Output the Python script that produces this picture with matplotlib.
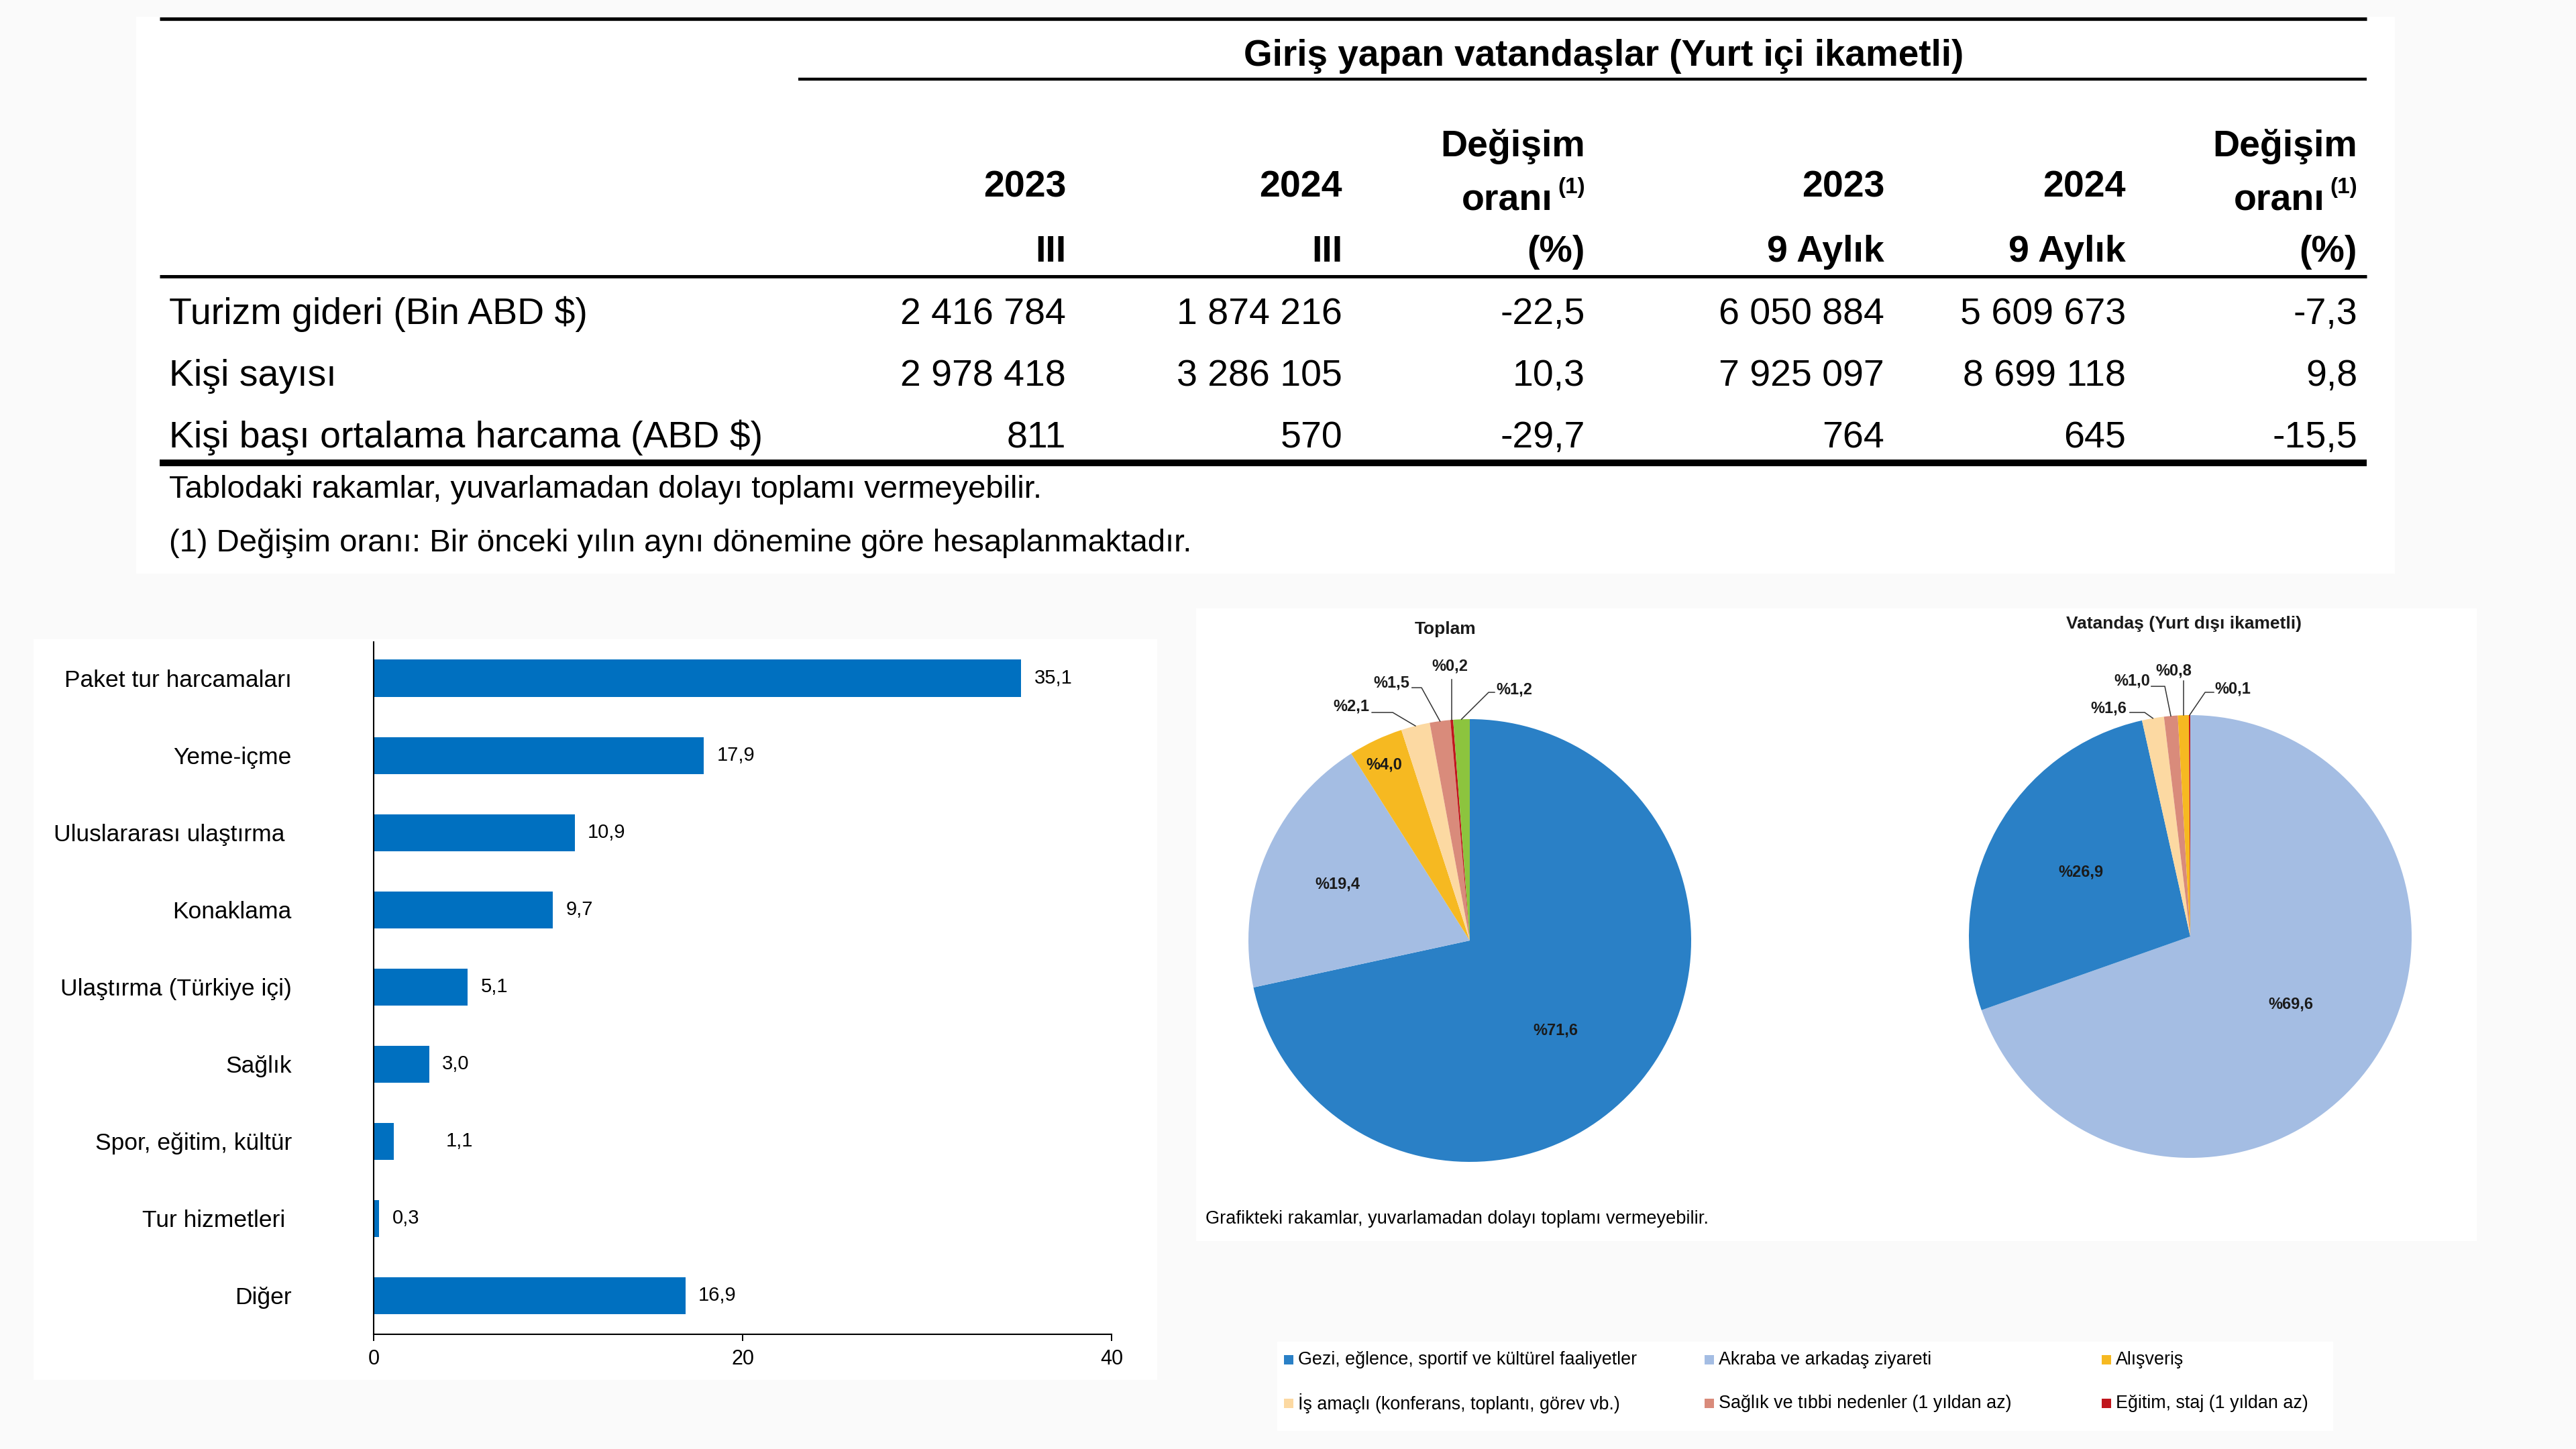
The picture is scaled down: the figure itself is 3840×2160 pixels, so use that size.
import matplotlib
matplotlib.use("Agg")
import matplotlib.pyplot as plt
from matplotlib.patches import Rectangle
import numpy as np

plt.rcParams["font.family"] = ["Liberation Sans", "DejaVu Sans"]

# ------------------------------------------------------------------ data
table_title = "Giriş yapan vatandaşlar (Yurt içi ikametli)"
col_head_top = ["", "", "Değişim", "", "", "Değişim"]
col_head_mid = ["2023", "2024", "oranı", "2023", "2024", "oranı"]
col_head_bot = ["III", "III", "(%)", "9 Aylık", "9 Aylık", "(%)"]
row_labels = ["Turizm gideri (Bin ABD $)", "Kişi sayısı",
              "Kişi başı ortalama harcama (ABD $)"]
q3_2023 = [2416784, 2978418, 811]
q3_2024 = [1874216, 3286105, 570]
q3_change = [-22.5, 10.3, -29.7]
m9_2023 = [6050884, 7925097, 764]
m9_2024 = [5609673, 8699118, 645]
m9_change = [-7.3, 9.8, -15.5]
table_notes = ["Tablodaki rakamlar, yuvarlamadan dolayı toplamı vermeyebilir.",
               "(1) Değişim oranı: Bir önceki yılın aynı dönemine göre hesaplanmaktadır."]

bar_categories = ["Paket tur harcamaları", "Yeme-içme", "Uluslararası ulaştırma ",
                  "Konaklama", "Ulaştırma (Türkiye içi)", "Sağlık",
                  "Spor, eğitim, kültür", "Tur hizmetleri ", "Diğer"]
bar_values = [35.1, 17.9, 10.9, 9.7, 5.1, 3.0, 1.1, 0.3, 16.9]
bar_ticks = [0, 20, 40]

pie_titles = ["Toplam", "Vatandaş (Yurt dışı ikametli)"]
legend_labels = ["Gezi, eğlence, sportif ve kültürel faaliyetler",
                 "Akraba ve arkadaş ziyareti", "Alışveriş",
                 "İş amaçlı (konferans, toplantı, görev vb.)",
                 "Sağlık ve tıbbi nedenler (1 yıldan az)",
                 "Eğitim, staj (1 yıldan az)"]
pie1_keys = ["gezi", "akraba", "alisveris", "is", "saglik", "egitim", "diger"]
pie1_values = [71.6, 19.4, 4.0, 2.1, 1.5, 0.2, 1.2]
pie2_keys = ["akraba", "gezi", "is", "saglik", "alisveris", "egitim"]
pie2_values = [69.6, 26.9, 1.6, 1.0, 0.8, 0.1]
pie_note = "Grafikteki rakamlar, yuvarlamadan dolayı toplamı vermeyebilir."

# ------------------------------------------------------------------ style
legend_keys = ["gezi", "akraba", "alisveris", "is", "saglik", "egitim"]
colors = {"gezi": "#2a80c6", "akraba": "#a4bde3", "alisveris": "#f6b921",
          "is": "#fcd9a2", "saglik": "#d98b7b", "egitim": "#c0161d",
          "diger": "#8cc43e"}
BAR_COLOR = "#0070c0"
W, H = 3840, 2160

fig = plt.figure(figsize=(W / 100, H / 100), dpi=100, facecolor="#fafafa")


def rect(x0, y0, x1, y1):
    """pixel box (top-left origin) -> figure fraction rect"""
    return [x0 / W, (H - y1) / H, (x1 - x0) / W, (y1 - y0) / H]


ov = fig.add_axes([0, 0, 1, 1], zorder=-1)
ov.set_xlim(0, W)
ov.set_ylim(H, 0)
ov.axis("off")
ov.patch.set_alpha(0)

# white panels
for (x0, y0, x1, y1) in [(203, 25, 3570, 855), (50, 953, 1725, 2057),
                         (1783, 907, 3692, 1850), (1904, 2000, 3478, 2133)]:
    ov.add_patch(Rectangle((x0, y0), x1 - x0, y1 - y0, facecolor="white",
                           edgecolor="none"))

# ------------------------------------------------------------------ table
TFS = 40
col_x = [1589, 2001, 2363, 2809, 3169, 3514]
label_x = 252
ov.plot([238, 3528], [28, 28], color="black", lw=3.8, solid_capstyle="butt")
ov.plot([1190, 3528], [118, 118], color="black", lw=3.2, solid_capstyle="butt")
ov.plot([238, 3528], [412, 412], color="black", lw=3.6, solid_capstyle="butt")
ov.plot([238, 3528], [690, 690], color="black", lw=7.2, solid_capstyle="butt")
ov.text(2391, 98, table_title, ha="center", va="baseline", fontsize=TFS - 0.5,
        fontweight="bold")
for i, x in enumerate(col_x):
    if col_head_top[i]:
        ov.text(x, 233, col_head_top[i], ha="right", va="baseline",
                fontsize=TFS, fontweight="bold")
    if col_head_mid[i] == "oranı":
        ov.text(x, 288, "(1)", ha="right", va="baseline", fontsize=24,
                fontweight="bold")
        ov.text(x - 48, 313, col_head_mid[i], ha="right", va="baseline",
                fontsize=TFS, fontweight="bold")
    else:
        ov.text(x, 293, col_head_mid[i], ha="right", va="baseline",
                fontsize=TFS, fontweight="bold")
    ov.text(x, 390, col_head_bot[i], ha="right", va="baseline",
            fontsize=TFS, fontweight="bold")


def fmt_int(v):
    return f"{v:,}".replace(",", " ")


def fmt_dec(v):
    return f"{v:.1f}".replace(".", ",")


columns = [q3_2023, q3_2024, q3_change, m9_2023, m9_2024, m9_change]
formats = [fmt_int, fmt_int, fmt_dec, fmt_int, fmt_int, fmt_dec]
row_base = [483, 575, 667]
for r, lab in enumerate(row_labels):
    ov.text(label_x, row_base[r], lab, ha="left", va="baseline", fontsize=TFS)
    for c, col in enumerate(columns):
        ov.text(col_x[c], row_base[r], formats[c](col[r]), ha="right",
                va="baseline", fontsize=TFS)
ov.text(label_x, 742, table_notes[0], ha="left", va="baseline", fontsize=34)
ov.text(label_x, 822, table_notes[1], ha="left", va="baseline", fontsize=34)

# ------------------------------------------------------------------ bar chart
axb = fig.add_axes(rect(557, 957, 1657, 1989))
axb.patch.set_alpha(0)
ypos = np.arange(len(bar_values))
axb.barh(ypos, bar_values, height=0.48, color=BAR_COLOR)
axb.set_ylim(len(bar_values) - 0.5, -0.47)
axb.set_xlim(0, 40)
axb.set_yticks(ypos)
axb.set_yticklabels(bar_categories, fontsize=25.5)
axb.set_xticks(bar_ticks)
axb.set_xticklabels([str(t) for t in bar_ticks], fontsize=22)
axb.tick_params(axis="y", length=0, pad=88)
axb.tick_params(axis="x", direction="out", length=7, width=1.4, pad=9)
for s in ["top", "right"]:
    axb.spines[s].set_visible(False)
for s in ["left", "bottom"]:
    axb.spines[s].set_linewidth(1.5)
    axb.spines[s].set_color("black")
extra = {6: 42}
for i, v in enumerate(bar_values):
    axb.annotate(fmt_dec(v), (v, i), xytext=(14 + extra.get(i, 0), 0),
                 textcoords="offset points", ha="left", va="center",
                 fontsize=21)

# ------------------------------------------------------------------ pies
R = 330
pie_specs = [
    dict(center=(2191, 1402), keys=pie1_keys, values=pie1_values,
         labels=[((0.388, -0.406), None), ((-0.597, 0.2545), None),
                 ((-0.388, 0.794), None),
                 ((-0.536, 1.058), [(-0.442, 1.030), (-0.348, 1.030)]),
                 ((-0.355, 1.164), [(-0.261, 1.142), (-0.218, 1.142)]),
                 ((-0.091, 1.239), "v1.18"),
                 ((0.200, 1.133), [(0.112, 1.121), (0.085, 1.121)])],
         title_xy=(2155, 938)),
    dict(center=(3265, 1396), keys=pie2_keys, values=pie2_values,
         labels=[((0.455, -0.306), None), ((-0.494, 0.291), None),
                 ((-0.370, 1.030), [(-0.273, 1.012), (-0.206, 1.012)]),
                 ((-0.264, 1.155), [(-0.176, 1.130), (-0.115, 1.130)]),
                 ((-0.076, 1.200), "v1.155"),
                 ((0.191, 1.118), [(0.106, 1.103), (0.067, 1.103)])],
         title_xy=(3256, 930)),
]
LIM = 1.4
for k, spec in enumerate(pie_specs):
    cx, cy = spec["center"]
    half = LIM * R
    axp = fig.add_axes(rect(cx - half, cy - half, cx + half, cy + half))
    axp.patch.set_alpha(0)
    wedges, _ = axp.pie(spec["values"], colors=[colors[c] for c in spec["keys"]],
                        startangle=90, counterclock=False, radius=1,
                        wedgeprops=dict(linewidth=0))
    axp.set_xlim(-LIM, LIM)
    axp.set_ylim(-LIM, LIM)
    axp.set_aspect("equal")
    axp.axis("off")
    for w, v, (txy, lead) in zip(wedges, spec["values"], spec["labels"]):
        axp.text(txy[0], txy[1], "%" + fmt_dec(v), ha="center", va="center",
                 fontsize=17, fontweight="bold", color="#1a1a1a")
        if lead is None:
            continue
        mid = np.deg2rad((w.theta1 + w.theta2) / 2)
        ex, ey = np.cos(mid), np.sin(mid)
        if isinstance(lead, str):
            ys = float(lead[1:])
            pts = [(ex, ys), (ex, ey)]
        else:
            pts = list(lead) + [(ex, ey)]
        axp.plot([p[0] for p in pts], [p[1] for p in pts], color="#333333",
                 lw=1.1)
    tx, ty = spec["title_xy"]
    ov.text(tx, ty, pie_titles[k], ha="center", va="center", fontsize=19,
            fontweight="bold", color="#1a1a1a")

ov.text(1797, 1817, pie_note, ha="left", va="center", fontsize=19.5)

# ------------------------------------------------------------------ legend
leg_x = [1921, 2548, 3140]
leg_y = [2027, 2092]
for i, (key, lab) in enumerate(zip(legend_keys, legend_labels)):
    x = leg_x[i % 3]
    y = leg_y[i // 3]
    ov.add_patch(Rectangle((x - 7, y - 7), 14, 14, facecolor=colors[key],
                           edgecolor="none"))
    ov.text(x + 14, y, lab, ha="left", va="center", fontsize=19.4)

fig.savefig("out.png", dpi=100, facecolor=fig.get_facecolor())
